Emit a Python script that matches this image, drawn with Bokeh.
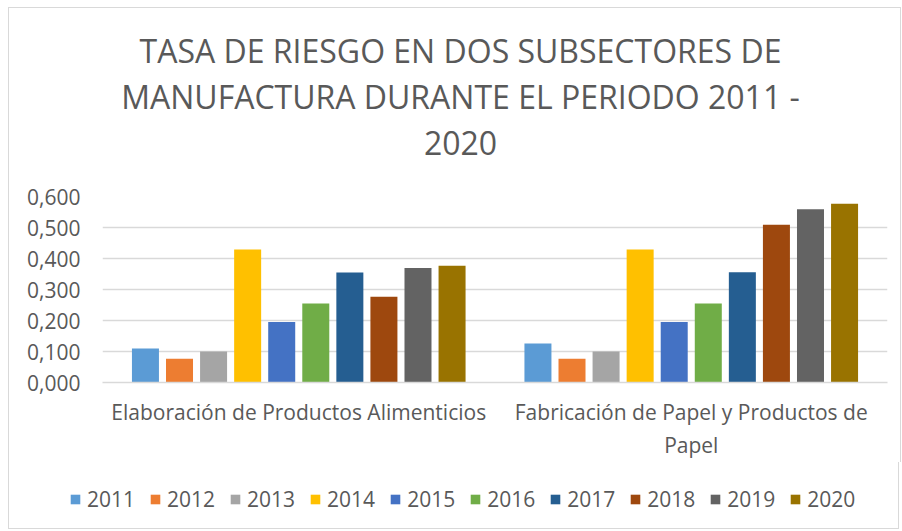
from bokeh.plotting import figure
from bokeh.layouts import column
from bokeh.models import (FactorRange, Range1d, ColumnDataSource, Legend, LegendItem,
                          Label, CustomJSTickFormatter, FixedTicker)
from bokeh.transform import dodge
from bokeh.embed import file_html
from bokeh.resources import INLINE

# ---- data ----
groups = ["Elaboración de Productos Alimenticios",
          "Fabricación de Papel y Productos de\nPapel"]
years = ["2011", "2012", "2013", "2014", "2015", "2016", "2017", "2018", "2019", "2020"]
food = [0.110, 0.077, 0.100, 0.429, 0.195, 0.255, 0.355, 0.277, 0.369, 0.377]
paper = [0.126, 0.077, 0.100, 0.429, 0.195, 0.255, 0.356, 0.509, 0.559, 0.577]
colors = ["#5B9BD5", "#ED7D31", "#A5A5A5", "#FFC000", "#4472C4",
          "#70AD47", "#255E91", "#9E480E", "#636363", "#997300"]
y_ticks = [0.0, 0.1, 0.2, 0.3, 0.4, 0.5, 0.6]
title_lines = ["TASA DE RIESGO EN DOS SUBSECTORES DE",
               "MANUFACTURA DURANTE EL PERIODO 2011 -",
               "2020"]

FONT = "Open Sans"
GREY = "#595959"
BORDER = "1px solid #d9d9d9"
W = 891

data = {"group": groups}
for y, f, pp in zip(years, food, paper):
    data[y] = [f, pp]
src = ColumnDataSource(data)


def bare(fig):
    fig.outline_line_color = None
    fig.background_fill_color = "white"
    fig.border_fill_color = "white"
    return fig


# ---- header with the three title lines (frame aligned with the chart frame) ----
head = bare(figure(width=W, height=176, x_range=Range1d(0, 785), y_range=Range1d(0, 176),
                   output_backend="svg", toolbar_location=None, title_location=None,
                   x_axis_location=None, y_axis_location=None,
                   min_border=0, min_border_left=0, min_border_right=0,
                   min_border_top=0, min_border_bottom=0))
head.xgrid.visible = False
head.ygrid.visible = False
for line, yy in zip(title_lines, [134, 88, 42]):
    head.add_layout(Label(x=358, y=yy, text=line, text_align="center",
                          text_baseline="alphabetic", text_font=FONT,
                          text_font_size="32px", text_color=GREY))

# ---- main chart ----
p = bare(figure(x_range=FactorRange(factors=groups), y_range=Range1d(0, 0.6),
                width=W, height=278, output_backend="svg", toolbar_location=None,
                title_location=None,
                min_border_left=93, min_border_right=13, min_border_top=12,
                min_border_bottom=77))

step = 0.0868
for i, y in enumerate(years):
    p.vbar(x=dodge("group", (i - 4.5) * step, range=p.x_range), top=y,
           width=0.0688, source=src, fill_color=colors[i], line_color=None)

p.xgrid.visible = False
p.ygrid.grid_line_color = "#d9d9d9"
p.ygrid.grid_line_width = 1.5
p.yaxis.ticker = FixedTicker(ticks=y_ticks)
p.yaxis.formatter = CustomJSTickFormatter(code="return tick.toFixed(3).replace('.', ',');")
p.yaxis.axis_line_color = None
p.yaxis.major_tick_line_color = None
p.yaxis.minor_tick_line_color = None
p.yaxis.major_tick_out = 0
p.yaxis.major_label_standoff = 22
p.yaxis.major_label_text_font = FONT
p.yaxis.major_label_text_font_size = "21px"
p.yaxis.major_label_text_color = GREY

p.xaxis.axis_line_color = "#d9d9d9"
p.xaxis.axis_line_width = 1.5
p.xaxis.major_tick_line_color = None
p.xaxis.minor_tick_line_color = None
p.xaxis.major_label_standoff = 9
p.xaxis.major_label_text_font = FONT
p.xaxis.major_label_text_font_size = "21px"
p.xaxis.major_label_text_color = GREY
p.xaxis.major_label_orientation = "horizontal"

# ---- legend strip (separate root so its frame spans the full width) ----
leg = bare(figure(x_range=FactorRange(factors=groups), y_range=Range1d(0, 0.6),
                  width=W, height=67, output_backend="svg", toolbar_location=None,
                  title_location=None,
                  x_axis_location=None, y_axis_location=None,
                  min_border=0, min_border_left=0, min_border_right=0,
                  min_border_top=0, min_border_bottom=0))
leg.xgrid.visible = False
leg.ygrid.visible = False
items = []
for i, y in enumerate(years):
    r = leg.vbar(x=dodge("group", (i - 4.5) * step, range=leg.x_range), top=y,
                 width=0.0688, source=src, fill_color=colors[i], line_color=None,
                 visible=False)
    items.append(LegendItem(label=y, renderers=[r]))

legend = Legend(items=items, orientation="horizontal", location=(60, 16),
                border_line_color=None, background_fill_alpha=0, padding=0, margin=0,
                spacing=14, label_standoff=6, glyph_width=12, glyph_height=12,
                label_height=24, inactive_fill_alpha=0,
                label_text_font=FONT, label_text_font_size="21px",
                label_text_color=GREY)
leg.add_layout(legend)

top = column(head, p, spacing=0)
top.styles = {"border-top": BORDER, "border-left": BORDER, "border-right": BORDER,
              "margin-left": "8px", "margin-top": "7px", "width": "fit-content"}
leg.styles = {"border-left": BORDER, "border-right": BORDER, "border-bottom": BORDER,
              "margin-left": "8px"}

open("out.html", "w").write(file_html([top, leg], INLINE))
